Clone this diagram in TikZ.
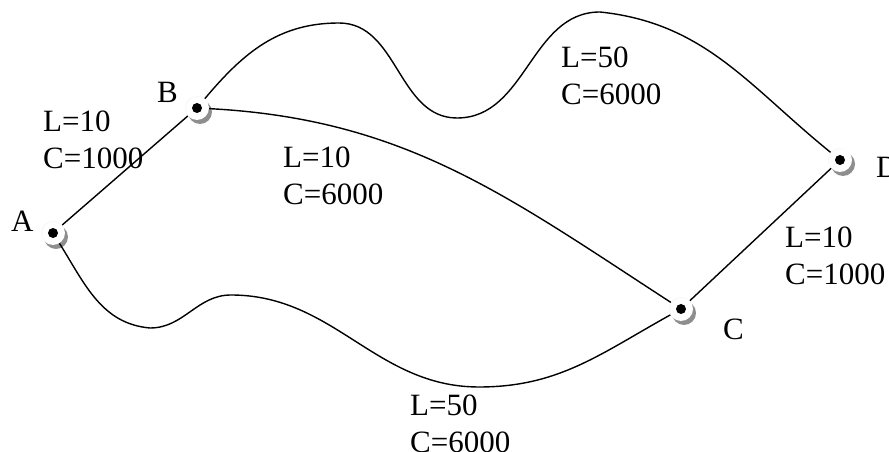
\documentclass[tikz,border=0pt]{standalone}
\usepackage{fontspec}
\setmainfont{Liberation Serif}
\usepackage{tikz}
\usepackage{xcolor}
\definecolor{node_ring}{HTML}{D2D2D2}
\definecolor{node_shadow}{HTML}{8E8E8E}
\usetikzlibrary{positioning,calc,shadows}
\pgfdeclareradialshading{stationshade}{\pgfpoint{0bp}{0bp}}{color(0bp)=(white); color(22bp)=(white); color(40bp)=(node_ring); color(50bp)=(node_ring)}
\tikzset{STATION/.style={circle,minimum size=24pt,inner sep=0pt,shading=stationshade,drop shadow={shadow xshift=3pt,shadow yshift=-4pt,fill=node_shadow,opacity=1},path picture={\fill[black] (path picture bounding box.center) circle (5pt);}}}
\tikzset{LINK/.style={line width=1.4pt}}
\tikzset{COST/.style={align=left,anchor=north west,inner sep=0pt,font=\fontsize{31}{37}\selectfont}}
\tikzset{NAME/.style={anchor=base west,inner sep=0pt,font=\fontsize{31}{37}\selectfont}}

\begin{document}
\begin{tikzpicture}[x=1pt,y=1pt]
\useasboundingbox (0,0) rectangle (889,452);

\node[STATION] (n_a) at (53,219) {};
\node[STATION] (n_b) at (197,344) {};
\node[STATION] (n_c) at (681,143) {};
\node[STATION] (n_d) at (840,292) {};

\node[NAME] (t_a) at ($(n_a)+(-42,1)$) {A};
\node[NAME] (t_b) at ($(n_b)+(-40,5)$) {B};
\node[NAME] (t_c) at ($(n_c)+(42,-31)$) {C};
\node[NAME] (t_d) at ($(n_d)+(36,-18)$) {D};

% straight links
\draw[LINK] (n_a) -- (n_b);
\draw[LINK] (n_c) -- (n_d);
\draw[LINK] (n_b) to[out=-3,in=147] (n_c);

% upper route B -> D
\coordinate (c_bd_hill1) at (339,429);
\coordinate (c_bd_dip) at (457,334);
\coordinate (c_bd_hill2) at (600,440);
\draw[LINK] (n_b) to[out=50,in=180] (c_bd_hill1) to[out=0,in=180] (c_bd_dip)
  to[out=0,in=180] (c_bd_hill2) to[out=-6,in=141] (n_d);

% lower route A -> C
\coordinate (c_ac_dip) at (150,124);
\coordinate (c_ac_hill) at (231,157);
\coordinate (c_ac_low) at (479,65);
\draw[LINK] (n_a) to[out=-58,in=175] (c_ac_dip) to[out=0,in=180] (c_ac_hill)
  to[out=0,in=180] (c_ac_low) to[out=0,in=209] (n_c);

\node[COST] (l_ab) at (43,341) {L=10\\C=1000};
\node[COST] (l_bd) at (561,405) {L=50\\C=6000};
\node[COST] (l_bc) at (283,305) {L=10\\C=6000};
\node[COST] (l_cd) at (785,225) {L=10\\C=1000};
\node[COST] (l_ac) at (410,57) {L=50\\C=6000};

\end{tikzpicture}
\end{document}
